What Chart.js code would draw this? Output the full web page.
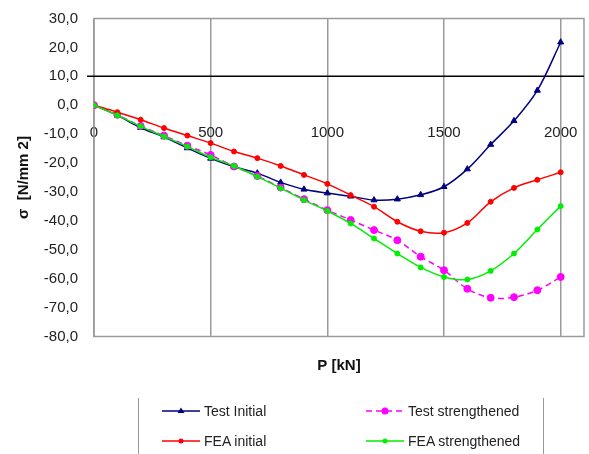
<!DOCTYPE html>
<html>
<head>
<meta charset="utf-8">
<title>Stress vs load</title>
<script src="https://cdn.jsdelivr.net/npm/chart.js@4.4.0/dist/chart.umd.min.js"></script>
<style>
  body { margin: 0; background: #fff; }
  #wrap { position: relative; width: 589px; height: 454px; overflow: hidden; }
  #legend { position: absolute; left: 138px; top: 398px; width: 404px; height: 70px;
    border-left: 1.5px solid #9a9a9a; border-right: 1.5px solid #9a9a9a;
    font: 14px "Liberation Sans", Arial, sans-serif; color: #222; }
  .item { position: absolute; display: flex; align-items: center; height: 16px; white-space: nowrap; }
  .item canvas { margin-right: 4px; }
</style>
</head>
<body>
<div id="wrap">
  <canvas id="myChart" width="589" height="454"></canvas>
  <div id="legend"></div>
</div>
<script>
// load steps P [kN]
const loads = [0, 100, 200, 300, 400, 500, 600, 700, 800, 900, 1000,
  1100, 1200, 1300, 1400, 1500, 1600, 1700, 1800, 1900, 2000];

// stress sigma [N/mm2]
const testInitial = [0, -3.5, -7.8, -11, -14.8, -18.4, -21.3, -23.5, -26.7, -29.1, -30.4,
  -31.5, -32.8, -32.5, -31, -28.2, -22.1, -13.6, -5.4, 5.1, 21.8];
const feaInitial = [0, -2.4, -5.0, -7.9, -10.5, -13.1, -16.0, -18.3, -21.0, -24.1, -27.2,
  -31.1, -35.1, -40.3, -43.6, -44.1, -40.7, -33.4, -28.6, -25.8, -23.2];
const testStrengthened = [0, -3.3, -7.2, -10.5, -14, -17.2, -21.2, -24.5, -28.5, -32.5, -36.3,
  -39.7, -43.2, -46.7, -52.4, -57.1, -63.5, -66.6, -66.4, -64.0, -59.4];
const feaStrengthened = [0, -3.5, -7.3, -10.8, -14.3, -18, -21, -24.7, -28.7, -32.8, -36.6,
  -40.9, -46.1, -51.3, -56.1, -59.4, -60.3, -57.3, -51.3, -43.0, -34.9];

const refLevel = 10;   // black horizontal line
const xTicks = [0, 500, 1000, 1500, 2000];

const FONT = '"Liberation Sans", Arial, sans-serif';
const GRID = '#9a9a9a';

function pts(vals) {
  return vals.map((v, i) => ({ x: loads[i], y: v }));
}

const series = [
  { label: 'Test Initial', data: testInitial, color: '#000080', style: 'triangle', r: 3.5, dash: [] },
  { label: 'Test strengthened', data: testStrengthened, color: '#ff00ff', style: 'circle', r: 3.5, dash: [6, 4] },
  { label: 'FEA initial', data: feaInitial, color: '#ff0000', style: 'circle', r: 2.5, dash: [] },
  { label: 'FEA strengthened', data: feaStrengthened, color: '#00ee00', style: 'circle', r: 2.5, dash: [] },
];

const frame = {
  id: 'frame',
  beforeDatasetsDraw(chart) {
    const { ctx, chartArea: a, scales } = chart;
    ctx.save();
    ctx.strokeStyle = GRID;
    ctx.lineWidth = 1.5;
    ctx.strokeRect(a.left, a.top, a.right - a.left, a.bottom - a.top);
    const y = scales.y.getPixelForValue(refLevel);
    ctx.strokeStyle = '#000';
    ctx.lineWidth = 1.6;
    ctx.beginPath();
    ctx.moveTo(a.left - 7, y);
    ctx.lineTo(a.right, y);
    ctx.stroke();
    ctx.restore();
  }
};

const keepTicks = (s) => { s.ticks = xTicks.map(v => ({ value: v })); };
const noPad = (s) => { s.paddingLeft = 0; s.paddingRight = 0; s.paddingTop = 0; s.paddingBottom = 0; };

const ctx = document.getElementById('myChart').getContext('2d');
const chart = new Chart(ctx, {
  type: 'scatter',
  data: {
    datasets: series.map(s => ({
      label: s.label,
      data: pts(s.data),
      showLine: true,
      borderColor: s.color,
      backgroundColor: s.color,
      borderWidth: 1.5,
      borderDash: s.dash,
      tension: 0.35,
      pointStyle: s.style,
      pointRadius: s.r,
      pointBorderWidth: 1,
    })).reverse(),
  },
  options: {
    responsive: false,
    animation: false,
    layout: { padding: { top: 18.5, right: -3, bottom: 67.5, left: 0 } },
    plugins: { legend: { display: false }, tooltip: { enabled: false } },
    scales: {
      x: {
        type: 'linear', position: 'bottom', min: 0, max: 2100,
        afterBuildTicks: keepTicks,
        afterFit: (s) => { s.height = 50; noPad(s); },
        ticks: { display: false },
        grid: { color: GRID, lineWidth: 1.5, drawTicks: false },
        border: { display: false },
        title: { display: true, text: 'P [kN]', color: '#111',
          font: { family: FONT, size: 15, weight: 'bold' }, padding: { top: 0, bottom: 12 } },
      },
      x2: {
        type: 'linear', position: { y: 0 }, min: 0, max: 2100,
        afterBuildTicks: keepTicks,
        afterFit: noPad,
        grid: { display: false, drawTicks: false },
        border: { display: false },
        ticks: { color: '#222', padding: 19, maxRotation: 0, font: { family: FONT, size: 15 },
          callback: (v) => String(v) },
      },
      y: {
        type: 'linear', position: 'left', min: -80, max: 30,
        afterFit: (s) => { s.width = 94; noPad(s); },
        ticks: { stepSize: 10, color: '#222', padding: 16,
          font: { family: FONT, size: 15 },
          callback: (v) => v.toFixed(1).replace('.', ',') },
        grid: { display: false, drawTicks: false },
        border: { display: false },
        title: { display: true, text: 'σ  [N/mm 2]', color: '#111',
          font: { family: FONT, size: 15, weight: 'bold' }, padding: { top: 15, bottom: 0 } },
      },
    },
  },
  plugins: [frame],
});

// legend laid out in two columns like the original
function symbol(s) {
  const c = document.createElement('canvas');
  c.width = 38; c.height = 14;
  const g = c.getContext('2d');
  g.strokeStyle = s.color; g.fillStyle = s.color; g.lineWidth = 1.5;
  g.setLineDash(s.dash);
  g.beginPath(); g.moveTo(0, 7); g.lineTo(38, 7); g.stroke();
  g.setLineDash([]);
  g.beginPath();
  if (s.style === 'triangle') {
    g.moveTo(19, 7 - s.r); g.lineTo(19 + s.r, 7 + s.r * 0.6); g.lineTo(19 - s.r, 7 + s.r * 0.6);
    g.closePath();
  } else {
    g.arc(19, 7, s.r, 0, Math.PI * 2);
  }
  g.fill();
  return c;
}

const legendPos = [[23, 5], [227, 5], [23, 35], [227, 35]];
const legend = document.getElementById('legend');
series.forEach((s, i) => {
  const d = document.createElement('div');
  d.className = 'item';
  d.style.left = legendPos[i][0] + 'px';
  d.style.top = legendPos[i][1] + 'px';
  d.appendChild(symbol(s));
  const t = document.createElement('span');
  t.textContent = s.label;
  d.appendChild(t);
  legend.appendChild(d);
});
</script>
</body>
</html>
